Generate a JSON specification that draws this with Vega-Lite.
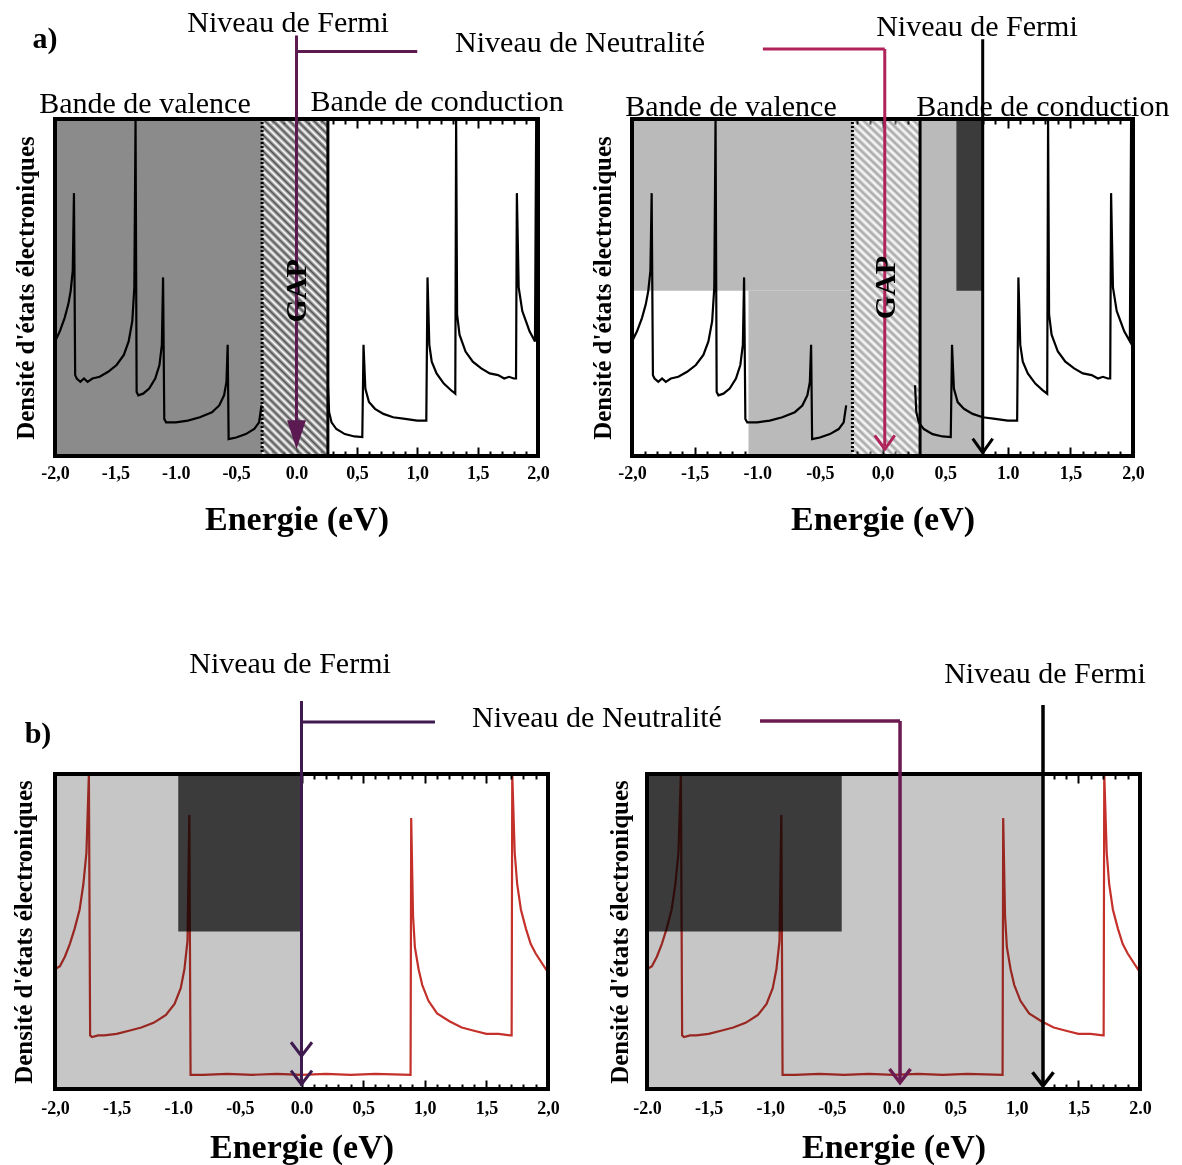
{
  "$schema": "https://vega.github.io/schema/vega-lite/v6.json",
  "background": "white",
  "padding": {"left": 11, "top": 7, "right": 5, "bottom": 5},
  "bounds": "flush",
  "spacing": 655,
  "config": {
    "view": {"stroke": null},
    "font": "Liberation Serif",
    "axis": {"labelFont": "Liberation Serif", "labelFontSize": 18, "labelFontWeight": "bold", "labelColor": "black", "titleFont": "Liberation Serif", "titleFontWeight": "bold", "titleColor": "black", "domain": false, "grid": false, "tickColor": "black", "tickWidth": 2}
  },
  "datasets": {
    "dosA": [
      {"x":-2.0,"y":0.34,"bande":"v"},{"x":-1.96,"y":0.37,"bande":"v"},{"x":-1.92,"y":0.41,"bande":"v"},{"x":-1.89,"y":0.45,"bande":"v"},{"x":-1.87,"y":0.49,"bande":"v"},{"x":-1.853,"y":0.55,"bande":"v"},{"x":-1.843,"y":0.78,"bande":"v"},{"x":-1.833,"y":0.24,"bande":"v"},{"x":-1.82,"y":0.23,"bande":"v"},{"x":-1.79,"y":0.22,"bande":"v"},{"x":-1.76,"y":0.23,"bande":"v"},{"x":-1.73,"y":0.22,"bande":"v"},{"x":-1.69,"y":0.23,"bande":"v"},{"x":-1.63,"y":0.235,"bande":"v"},{"x":-1.56,"y":0.25,"bande":"v"},{"x":-1.49,"y":0.27,"bande":"v"},{"x":-1.43,"y":0.3,"bande":"v"},{"x":-1.39,"y":0.34,"bande":"v"},{"x":-1.36,"y":0.4,"bande":"v"},{"x":-1.343,"y":0.5,"bande":"v"},{"x":-1.333,"y":1.0,"bande":"v"},{"x":-1.324,"y":0.19,"bande":"v"},{"x":-1.31,"y":0.18,"bande":"v"},{"x":-1.27,"y":0.185,"bande":"v"},{"x":-1.22,"y":0.2,"bande":"v"},{"x":-1.17,"y":0.23,"bande":"v"},{"x":-1.135,"y":0.27,"bande":"v"},{"x":-1.115,"y":0.33,"bande":"v"},{"x":-1.105,"y":0.53,"bande":"v"},{"x":-1.095,"y":0.11,"bande":"v"},{"x":-1.08,"y":0.1,"bande":"v"},{"x":-1.0,"y":0.1,"bande":"v"},{"x":-0.9,"y":0.105,"bande":"v"},{"x":-0.8,"y":0.115,"bande":"v"},{"x":-0.7,"y":0.13,"bande":"v"},{"x":-0.64,"y":0.15,"bande":"v"},{"x":-0.6,"y":0.18,"bande":"v"},{"x":-0.58,"y":0.22,"bande":"v"},{"x":-0.57,"y":0.33,"bande":"v"},{"x":-0.562,"y":0.05,"bande":"v"},{"x":-0.5,"y":0.055,"bande":"v"},{"x":-0.42,"y":0.065,"bande":"v"},{"x":-0.35,"y":0.08,"bande":"v"},{"x":-0.31,"y":0.1,"bande":"v"},{"x":-0.29,"y":0.15,"bande":"v"},
      {"x":0.26,"y":0.21,"bande":"c"},{"x":0.27,"y":0.13,"bande":"c"},{"x":0.29,"y":0.1,"bande":"c"},{"x":0.33,"y":0.08,"bande":"c"},{"x":0.4,"y":0.065,"bande":"c"},{"x":0.48,"y":0.058,"bande":"c"},{"x":0.545,"y":0.056,"bande":"c"},{"x":0.555,"y":0.33,"bande":"c"},{"x":0.57,"y":0.2,"bande":"c"},{"x":0.6,"y":0.16,"bande":"c"},{"x":0.65,"y":0.14,"bande":"c"},{"x":0.72,"y":0.125,"bande":"c"},{"x":0.8,"y":0.115,"bande":"c"},{"x":0.9,"y":0.11,"bande":"c"},{"x":1.0,"y":0.105,"bande":"c"},{"x":1.075,"y":0.105,"bande":"c"},{"x":1.085,"y":0.53,"bande":"c"},{"x":1.1,"y":0.33,"bande":"c"},{"x":1.12,"y":0.28,"bande":"c"},{"x":1.16,"y":0.245,"bande":"c"},{"x":1.22,"y":0.215,"bande":"c"},{"x":1.28,"y":0.195,"bande":"c"},{"x":1.315,"y":0.185,"bande":"c"},{"x":1.322,"y":1.0,"bande":"c"},{"x":1.33,"y":0.42,"bande":"c"},{"x":1.35,"y":0.36,"bande":"c"},{"x":1.4,"y":0.31,"bande":"c"},{"x":1.46,"y":0.28,"bande":"c"},{"x":1.53,"y":0.26,"bande":"c"},{"x":1.6,"y":0.245,"bande":"c"},{"x":1.67,"y":0.24,"bande":"c"},{"x":1.72,"y":0.23,"bande":"c"},{"x":1.76,"y":0.235,"bande":"c"},{"x":1.8,"y":0.23,"bande":"c"},{"x":1.818,"y":0.23,"bande":"c"},{"x":1.825,"y":0.78,"bande":"c"},{"x":1.84,"y":0.5,"bande":"c"},{"x":1.87,"y":0.43,"bande":"c"},{"x":1.9,"y":0.4,"bande":"c"},{"x":1.93,"y":0.37,"bande":"c"},{"x":1.96,"y":0.35,"bande":"c"},{"x":1.975,"y":0.34,"bande":"c"},{"x":1.985,"y":1.0,"bande":"c"},{"x":2.0,"y":1.0,"bande":"c"}
    ],
    "dosB": [
      {"x":-2.0,"y":0.38},{"x":-1.96,"y":0.39},{"x":-1.92,"y":0.42},{"x":-1.88,"y":0.46},{"x":-1.84,"y":0.51},{"x":-1.8,"y":0.57},{"x":-1.77,"y":0.65},{"x":-1.745,"y":0.75},{"x":-1.725,"y":1.0},{"x":-1.715,"y":0.17},{"x":-1.7,"y":0.165},{"x":-1.65,"y":0.17},{"x":-1.6,"y":0.17},{"x":-1.5,"y":0.175},{"x":-1.4,"y":0.185},{"x":-1.3,"y":0.195},{"x":-1.2,"y":0.21},{"x":-1.1,"y":0.235},{"x":-1.03,"y":0.27},{"x":-0.98,"y":0.32},{"x":-0.95,"y":0.38},{"x":-0.925,"y":0.47},{"x":-0.91,"y":0.87},{"x":-0.9,"y":0.045},{"x":-0.8,"y":0.045},{"x":-0.6,"y":0.048},{"x":-0.4,"y":0.045},{"x":-0.2,"y":0.048},{"x":0.0,"y":0.045},{"x":0.2,"y":0.048},{"x":0.4,"y":0.045},{"x":0.6,"y":0.048},{"x":0.885,"y":0.045},{"x":0.89,"y":0.86},{"x":0.905,"y":0.55},{"x":0.92,"y":0.45},{"x":0.95,"y":0.38},{"x":0.98,"y":0.33},{"x":1.03,"y":0.28},{"x":1.1,"y":0.24},{"x":1.2,"y":0.215},{"x":1.3,"y":0.195},{"x":1.4,"y":0.185},{"x":1.5,"y":0.175},{"x":1.6,"y":0.175},{"x":1.7,"y":0.17},{"x":1.705,"y":0.17},{"x":1.71,"y":1.0},{"x":1.73,"y":0.75},{"x":1.75,"y":0.65},{"x":1.78,"y":0.57},{"x":1.82,"y":0.51},{"x":1.86,"y":0.46},{"x":1.9,"y":0.43},{"x":1.95,"y":0.4},{"x":2.0,"y":0.37}
    ]
  },
  "vconcat": [
    {
      "bounds": "flush",
      "spacing": 94,
      "hconcat": [
        {
          "width": 483, "height": 337,
          "encoding": {
            "x": {"field": "x", "type": "quantitative", "scale": {"domain": [-2, 2], "nice": false, "zero": false}, "axis": null},
            "y": {"field": "y", "type": "quantitative", "scale": {"domain": [0, 1], "nice": false, "zero": false}, "axis": null}
          },
          "resolve": {"axis": {"x": "independent", "y": "independent"}},
          "layer": [
            {"data": {"values": [{"x": -2, "x2": -0.285, "y": 0, "y2": 1, "tone": "fonce"}]},
             "mark": {"type": "rect"},
             "encoding": {"x2": {"field": "x2"}, "y2": {"field": "y2"}, "fill": {"field": "tone", "type": "nominal", "scale": {"domain": ["fonce", "clair_a", "clair_b", "sombre"], "range": ["#8b8b8b", "#bababa", "#c6c6c6", "#3b3b3b"]}, "legend": null}}},
            {"data": {"values": [{"x": -0.285, "x2": 0.26, "y": 0, "y2": 1}]},
             "mark": {"type": "rect", "fillOpacity": 0.85, "fill": {"gradient": "linear", "x1": 0, "y1": 1, "x2": 0.222, "y2": -0.151, "stops": [
        {"offset":0,"color":"#333333"},{"offset":0.01,"color":"#ffffff"},{"offset":0.02,"color":"#333333"},{"offset":0.03,"color":"#ffffff"},{"offset":0.04,"color":"#333333"},{"offset":0.05,"color":"#ffffff"},{"offset":0.06,"color":"#333333"},{"offset":0.07,"color":"#ffffff"},{"offset":0.08,"color":"#333333"},{"offset":0.09,"color":"#ffffff"},
        {"offset":0.1,"color":"#333333"},{"offset":0.11,"color":"#ffffff"},{"offset":0.12,"color":"#333333"},{"offset":0.13,"color":"#ffffff"},{"offset":0.14,"color":"#333333"},{"offset":0.15,"color":"#ffffff"},{"offset":0.16,"color":"#333333"},{"offset":0.17,"color":"#ffffff"},{"offset":0.18,"color":"#333333"},{"offset":0.19,"color":"#ffffff"},
        {"offset":0.2,"color":"#333333"},{"offset":0.21,"color":"#ffffff"},{"offset":0.22,"color":"#333333"},{"offset":0.23,"color":"#ffffff"},{"offset":0.24,"color":"#333333"},{"offset":0.25,"color":"#ffffff"},{"offset":0.26,"color":"#333333"},{"offset":0.27,"color":"#ffffff"},{"offset":0.28,"color":"#333333"},{"offset":0.29,"color":"#ffffff"},
        {"offset":0.3,"color":"#333333"},{"offset":0.31,"color":"#ffffff"},{"offset":0.32,"color":"#333333"},{"offset":0.33,"color":"#ffffff"},{"offset":0.34,"color":"#333333"},{"offset":0.35,"color":"#ffffff"},{"offset":0.36,"color":"#333333"},{"offset":0.37,"color":"#ffffff"},{"offset":0.38,"color":"#333333"},{"offset":0.39,"color":"#ffffff"},
        {"offset":0.4,"color":"#333333"},{"offset":0.41,"color":"#ffffff"},{"offset":0.42,"color":"#333333"},{"offset":0.43,"color":"#ffffff"},{"offset":0.44,"color":"#333333"},{"offset":0.45,"color":"#ffffff"},{"offset":0.46,"color":"#333333"},{"offset":0.47,"color":"#ffffff"},{"offset":0.48,"color":"#333333"},{"offset":0.49,"color":"#ffffff"},
        {"offset":0.5,"color":"#333333"},{"offset":0.51,"color":"#ffffff"},{"offset":0.52,"color":"#333333"},{"offset":0.53,"color":"#ffffff"},{"offset":0.54,"color":"#333333"},{"offset":0.55,"color":"#ffffff"},{"offset":0.56,"color":"#333333"},{"offset":0.57,"color":"#ffffff"},{"offset":0.58,"color":"#333333"},{"offset":0.59,"color":"#ffffff"},
        {"offset":0.6,"color":"#333333"},{"offset":0.61,"color":"#ffffff"},{"offset":0.62,"color":"#333333"},{"offset":0.63,"color":"#ffffff"},{"offset":0.64,"color":"#333333"},{"offset":0.65,"color":"#ffffff"},{"offset":0.66,"color":"#333333"},{"offset":0.67,"color":"#ffffff"},{"offset":0.68,"color":"#333333"},{"offset":0.69,"color":"#ffffff"},
        {"offset":0.7,"color":"#333333"},{"offset":0.71,"color":"#ffffff"},{"offset":0.72,"color":"#333333"},{"offset":0.73,"color":"#ffffff"},{"offset":0.74,"color":"#333333"},{"offset":0.75,"color":"#ffffff"},{"offset":0.76,"color":"#333333"},{"offset":0.77,"color":"#ffffff"},{"offset":0.78,"color":"#333333"},{"offset":0.79,"color":"#ffffff"},
        {"offset":0.8,"color":"#333333"},{"offset":0.81,"color":"#ffffff"},{"offset":0.82,"color":"#333333"},{"offset":0.83,"color":"#ffffff"},{"offset":0.84,"color":"#333333"},{"offset":0.85,"color":"#ffffff"},{"offset":0.86,"color":"#333333"},{"offset":0.87,"color":"#ffffff"},{"offset":0.88,"color":"#333333"},{"offset":0.89,"color":"#ffffff"},
        {"offset":0.9,"color":"#333333"},{"offset":0.91,"color":"#ffffff"},{"offset":0.92,"color":"#333333"},{"offset":0.93,"color":"#ffffff"},{"offset":0.94,"color":"#333333"},{"offset":0.95,"color":"#ffffff"},{"offset":0.96,"color":"#333333"},{"offset":0.97,"color":"#ffffff"},{"offset":0.98,"color":"#333333"},{"offset":0.99,"color":"#ffffff"},
        {"offset":1,"color":"#333333"}]}},
             "encoding": {"x2": {"field": "x2"}, "y2": {"field": "y2"}}},
            {"data": {"values": [{"x": -0.285, "y": 0, "y2": 1, "trait": "pointillé"}, {"x": 0.26, "y": 0, "y2": 1, "trait": "plein"}]},
             "mark": {"type": "rule", "color": "black", "strokeWidth": 3},
             "encoding": {"y2": {"field": "y2"}, "strokeDash": {"field": "trait", "type": "nominal", "scale": {"domain": ["pointillé", "plein"], "range": [[2, 2], [1, 0]]}, "legend": null}}},
            {"data": {"name": "dosA"},
             "mark": {"type": "line", "color": "black", "strokeWidth": 2.2},
             "encoding": {
               "detail": {"field": "bande", "type": "nominal"},
               "x": {"field": "x", "type": "quantitative", "scale": {"domain": [-2, 2], "nice": false, "zero": false},
                     "axis": {"orient": "bottom", "values": [-2,-1.9,-1.8,-1.7,-1.6,-1.5,-1.4,-1.3,-1.2,-1.1,-1,-0.9,-0.8,-0.7,-0.6,-0.5,-0.4,-0.3,-0.2,-0.1,0,0.1,0.2,0.3,0.4,0.5,0.6,0.7,0.8,0.9,1,1.1,1.2,1.3,1.4,1.5,1.6,1.7,1.8,1.9,2],
                              "tickSize": {"condition": {"test": "abs(datum.value*2-round(datum.value*2))<0.01", "value": -9}, "value": -5},
                              "labelExpr": "abs(datum.value*2-round(datum.value*2))>0.01 ? '' : (datum.value<0?'-':'') + (indexof([-1,0],datum.value)>=0 ? format(abs(datum.value),'.1f') : replace(format(abs(datum.value),'.1f'),'.',','))",
                              "labelPadding": 17, "labelFlush": false, "labelOverlap": false,
                              "title": "Energie (eV)", "titleFontSize": 34, "titlePadding": 16}},
               "y": {"field": "y", "type": "quantitative", "scale": {"domain": [0, 1], "nice": false, "zero": false},
                     "axis": {"orient": "left", "title": "Densité d'états électroniques", "titleFontSize": 25, "titlePadding": 17, "ticks": false, "labels": false}}
             }},
            {"data": {"values": [{"x": -2, "x2": 2, "y": 0, "y2": 1}]},
             "mark": {"type": "rect", "filled": false, "stroke": "black", "strokeWidth": 4},
             "encoding": {
               "x": {"field": "x", "type": "quantitative", "scale": {"domain": [-2, 2], "nice": false, "zero": false},
                     "axis": {"orient": "top", "values": [-2,-1.9,-1.8,-1.7,-1.6,-1.5,-1.4,-1.3,-1.2,-1.1,-1,-0.9,-0.8,-0.7,-0.6,-0.5,-0.4,-0.3,-0.2,-0.1,0,0.1,0.2,0.3,0.4,0.5,0.6,0.7,0.8,0.9,1,1.1,1.2,1.3,1.4,1.5,1.6,1.7,1.8,1.9,2],
                              "tickSize": {"condition": {"test": "abs(datum.value*2-round(datum.value*2))<0.01", "value": -9}, "value": -5},
                              "labels": false, "title": null}},
               "x2": {"field": "x2"}, "y2": {"field": "y2"}}},
            {"data": {"values": [{"x": 0, "y": 1.248, "x2": 0, "y2": 0.06, "fleche": "fermi_violet"}, {"x": 0, "y": 1.2, "x2": 1.0, "y2": 1.2, "fleche": "fermi_violet"}]},
             "mark": {"type": "rule", "strokeWidth": 3},
             "encoding": {"x2": {"field": "x2"}, "y2": {"field": "y2"}, "color": {"field": "fleche", "type": "nominal", "scale": {"domain": ["fermi_violet", "neutre_magenta", "fermi_noir", "fermi_violet_b", "neutre_violet"], "range": ["#5c1a52", "#b0235a", "#000000", "#3e1a4e", "#6b1b52"]}, "legend": null}}},
            {"data": {"values": [{"x": 0, "y": 0.02, "fleche": "fermi_violet"}]},
             "mark": {"type": "point", "shape": "M-0.65,-2L0.65,-2L0,0Z", "size": 841, "filled": true, "opacity": 1},
             "encoding": {"color": {"field": "fleche", "type": "nominal", "scale": {"domain": ["fermi_violet", "neutre_magenta", "fermi_noir", "fermi_violet_b", "neutre_violet"], "range": ["#5c1a52", "#b0235a", "#000000", "#3e1a4e", "#6b1b52"]}, "legend": null}}},
            {"data": {"values": [{"x": -0.07, "y": 1.285, "texte": "Niveau de Fermi"}, {"x": 2.348, "y": 1.2255, "texte": "Niveau de Neutralité"}, {"x": -1.255, "y": 1.045, "texte": "Bande de valence"}, {"x": 1.164, "y": 1.05, "texte": "Bande de conduction"}]},
             "mark": {"type": "text", "font": "Liberation Serif", "fontSize": 30, "color": "black", "baseline": "middle", "align": "center"},
             "encoding": {"text": {"field": "texte"}}},
            {"data": {"values": [{"x": -2.083, "y": 1.237, "texte": "a)"}]},
             "mark": {"type": "text", "font": "Liberation Serif", "fontSize": 30, "fontWeight": "bold", "color": "black", "baseline": "middle", "align": "center"},
             "encoding": {"text": {"field": "texte"}}},
            {"data": {"values": [{"x": 0, "y": 0.49, "texte": "GAP"}]},
             "mark": {"type": "text", "font": "Liberation Serif", "fontSize": 30, "fontWeight": "bold", "color": "black", "angle": 270, "baseline": "middle", "align": "center"},
             "encoding": {"text": {"field": "texte"}}}
          ]
        },
        {
          "width": 501, "height": 337,
          "encoding": {
            "x": {"field": "x", "type": "quantitative", "scale": {"domain": [-2, 2], "nice": false, "zero": false}, "axis": null},
            "y": {"field": "y", "type": "quantitative", "scale": {"domain": [0, 1], "nice": false, "zero": false}, "axis": null}
          },
          "resolve": {"axis": {"x": "independent", "y": "independent"}},
          "layer": [
            {"data": {"values": [{"x": -2, "x2": -0.24, "y": 0.49, "y2": 1, "tone": "clair_a"}, {"x": -1.07, "x2": -0.24, "y": 0, "y2": 0.49, "tone": "clair_a"}, {"x": 0.3, "x2": 0.8, "y": 0, "y2": 1, "tone": "clair_a"}, {"x": 0.59, "x2": 0.8, "y": 0.49, "y2": 1, "tone": "sombre"}]},
             "mark": {"type": "rect"},
             "encoding": {"x2": {"field": "x2"}, "y2": {"field": "y2"}, "fill": {"field": "tone", "type": "nominal", "scale": {"domain": ["fonce", "clair_a", "clair_b", "sombre"], "range": ["#8b8b8b", "#bababa", "#c6c6c6", "#3b3b3b"]}, "legend": null}}},
            {"data": {"values": [{"x": -0.24, "x2": 0.3, "y": 0, "y2": 1}]},
             "mark": {"type": "rect", "fillOpacity": 0.4, "fill": {"gradient": "linear", "x1": 0, "y1": 1, "x2": 0.222, "y2": -0.151, "stops": [
        {"offset":0,"color":"#1a1a1a"},{"offset":0.01,"color":"#ffffff"},{"offset":0.02,"color":"#1a1a1a"},{"offset":0.03,"color":"#ffffff"},{"offset":0.04,"color":"#1a1a1a"},{"offset":0.05,"color":"#ffffff"},{"offset":0.06,"color":"#1a1a1a"},{"offset":0.07,"color":"#ffffff"},{"offset":0.08,"color":"#1a1a1a"},{"offset":0.09,"color":"#ffffff"},
        {"offset":0.1,"color":"#1a1a1a"},{"offset":0.11,"color":"#ffffff"},{"offset":0.12,"color":"#1a1a1a"},{"offset":0.13,"color":"#ffffff"},{"offset":0.14,"color":"#1a1a1a"},{"offset":0.15,"color":"#ffffff"},{"offset":0.16,"color":"#1a1a1a"},{"offset":0.17,"color":"#ffffff"},{"offset":0.18,"color":"#1a1a1a"},{"offset":0.19,"color":"#ffffff"},
        {"offset":0.2,"color":"#1a1a1a"},{"offset":0.21,"color":"#ffffff"},{"offset":0.22,"color":"#1a1a1a"},{"offset":0.23,"color":"#ffffff"},{"offset":0.24,"color":"#1a1a1a"},{"offset":0.25,"color":"#ffffff"},{"offset":0.26,"color":"#1a1a1a"},{"offset":0.27,"color":"#ffffff"},{"offset":0.28,"color":"#1a1a1a"},{"offset":0.29,"color":"#ffffff"},
        {"offset":0.3,"color":"#1a1a1a"},{"offset":0.31,"color":"#ffffff"},{"offset":0.32,"color":"#1a1a1a"},{"offset":0.33,"color":"#ffffff"},{"offset":0.34,"color":"#1a1a1a"},{"offset":0.35,"color":"#ffffff"},{"offset":0.36,"color":"#1a1a1a"},{"offset":0.37,"color":"#ffffff"},{"offset":0.38,"color":"#1a1a1a"},{"offset":0.39,"color":"#ffffff"},
        {"offset":0.4,"color":"#1a1a1a"},{"offset":0.41,"color":"#ffffff"},{"offset":0.42,"color":"#1a1a1a"},{"offset":0.43,"color":"#ffffff"},{"offset":0.44,"color":"#1a1a1a"},{"offset":0.45,"color":"#ffffff"},{"offset":0.46,"color":"#1a1a1a"},{"offset":0.47,"color":"#ffffff"},{"offset":0.48,"color":"#1a1a1a"},{"offset":0.49,"color":"#ffffff"},
        {"offset":0.5,"color":"#1a1a1a"},{"offset":0.51,"color":"#ffffff"},{"offset":0.52,"color":"#1a1a1a"},{"offset":0.53,"color":"#ffffff"},{"offset":0.54,"color":"#1a1a1a"},{"offset":0.55,"color":"#ffffff"},{"offset":0.56,"color":"#1a1a1a"},{"offset":0.57,"color":"#ffffff"},{"offset":0.58,"color":"#1a1a1a"},{"offset":0.59,"color":"#ffffff"},
        {"offset":0.6,"color":"#1a1a1a"},{"offset":0.61,"color":"#ffffff"},{"offset":0.62,"color":"#1a1a1a"},{"offset":0.63,"color":"#ffffff"},{"offset":0.64,"color":"#1a1a1a"},{"offset":0.65,"color":"#ffffff"},{"offset":0.66,"color":"#1a1a1a"},{"offset":0.67,"color":"#ffffff"},{"offset":0.68,"color":"#1a1a1a"},{"offset":0.69,"color":"#ffffff"},
        {"offset":0.7,"color":"#1a1a1a"},{"offset":0.71,"color":"#ffffff"},{"offset":0.72,"color":"#1a1a1a"},{"offset":0.73,"color":"#ffffff"},{"offset":0.74,"color":"#1a1a1a"},{"offset":0.75,"color":"#ffffff"},{"offset":0.76,"color":"#1a1a1a"},{"offset":0.77,"color":"#ffffff"},{"offset":0.78,"color":"#1a1a1a"},{"offset":0.79,"color":"#ffffff"},
        {"offset":0.8,"color":"#1a1a1a"},{"offset":0.81,"color":"#ffffff"},{"offset":0.82,"color":"#1a1a1a"},{"offset":0.83,"color":"#ffffff"},{"offset":0.84,"color":"#1a1a1a"},{"offset":0.85,"color":"#ffffff"},{"offset":0.86,"color":"#1a1a1a"},{"offset":0.87,"color":"#ffffff"},{"offset":0.88,"color":"#1a1a1a"},{"offset":0.89,"color":"#ffffff"},
        {"offset":0.9,"color":"#1a1a1a"},{"offset":0.91,"color":"#ffffff"},{"offset":0.92,"color":"#1a1a1a"},{"offset":0.93,"color":"#ffffff"},{"offset":0.94,"color":"#1a1a1a"},{"offset":0.95,"color":"#ffffff"},{"offset":0.96,"color":"#1a1a1a"},{"offset":0.97,"color":"#ffffff"},{"offset":0.98,"color":"#1a1a1a"},{"offset":0.99,"color":"#ffffff"},
        {"offset":1,"color":"#1a1a1a"}]}},
             "encoding": {"x2": {"field": "x2"}, "y2": {"field": "y2"}}},
            {"data": {"values": [{"x": -0.24, "y": 0, "y2": 1, "trait": "pointillé"}, {"x": 0.3, "y": 0, "y2": 1, "trait": "plein"}]},
             "mark": {"type": "rule", "color": "black", "strokeWidth": 3},
             "encoding": {"y2": {"field": "y2"}, "strokeDash": {"field": "trait", "type": "nominal", "scale": {"domain": ["pointillé", "plein"], "range": [[2, 2], [1, 0]]}, "legend": null}}},
            {"data": {"name": "dosA"},
             "mark": {"type": "line", "color": "black", "strokeWidth": 2.2},
             "encoding": {
               "detail": {"field": "bande", "type": "nominal"},
               "x": {"field": "x", "type": "quantitative", "scale": {"domain": [-2, 2], "nice": false, "zero": false},
                     "axis": {"orient": "bottom", "values": [-2,-1.9,-1.8,-1.7,-1.6,-1.5,-1.4,-1.3,-1.2,-1.1,-1,-0.9,-0.8,-0.7,-0.6,-0.5,-0.4,-0.3,-0.2,-0.1,0,0.1,0.2,0.3,0.4,0.5,0.6,0.7,0.8,0.9,1,1.1,1.2,1.3,1.4,1.5,1.6,1.7,1.8,1.9,2],
                              "tickSize": {"condition": {"test": "abs(datum.value*2-round(datum.value*2))<0.01", "value": -9}, "value": -5},
                              "labelExpr": "abs(datum.value*2-round(datum.value*2))>0.01 ? '' : (datum.value<0?'-':'') + (indexof([-1,1],datum.value)>=0 ? format(abs(datum.value),'.1f') : replace(format(abs(datum.value),'.1f'),'.',','))",
                              "labelPadding": 17, "labelFlush": false, "labelOverlap": false,
                              "title": "Energie (eV)", "titleFontSize": 34, "titlePadding": 16}},
               "y": {"field": "y", "type": "quantitative", "scale": {"domain": [0, 1], "nice": false, "zero": false},
                     "axis": {"orient": "left", "title": "Densité d'états électroniques", "titleFontSize": 25, "titlePadding": 17, "ticks": false, "labels": false}}
             }},
            {"data": {"values": [{"x": -2, "x2": 2, "y": 0, "y2": 1}]},
             "mark": {"type": "rect", "filled": false, "stroke": "black", "strokeWidth": 4},
             "encoding": {
               "x": {"field": "x", "type": "quantitative", "scale": {"domain": [-2, 2], "nice": false, "zero": false},
                     "axis": {"orient": "top", "values": [-2,-1.9,-1.8,-1.7,-1.6,-1.5,-1.4,-1.3,-1.2,-1.1,-1,-0.9,-0.8,-0.7,-0.6,-0.5,-0.4,-0.3,-0.2,-0.1,0,0.1,0.2,0.3,0.4,0.5,0.6,0.7,0.8,0.9,1,1.1,1.2,1.3,1.4,1.5,1.6,1.7,1.8,1.9,2],
                              "tickSize": {"condition": {"test": "abs(datum.value*2-round(datum.value*2))<0.01", "value": -9}, "value": -5},
                              "labels": false, "title": null}},
               "x2": {"field": "x2"}, "y2": {"field": "y2"}}},
            {"data": {"values": [{"x": 0.018, "y": 1.208, "x2": 0.018, "y2": 0.03, "fleche": "neutre_magenta"}, {"x": -0.955, "y": 1.208, "x2": 0.018, "y2": 1.208, "fleche": "neutre_magenta"}, {"x": 0.8, "y": 1.237, "x2": 0.8, "y2": 0.01, "fleche": "fermi_noir"}]},
             "mark": {"type": "rule", "strokeWidth": 3},
             "encoding": {"x2": {"field": "x2"}, "y2": {"field": "y2"}, "color": {"field": "fleche", "type": "nominal", "scale": {"domain": ["fermi_violet", "neutre_magenta", "fermi_noir", "fermi_violet_b", "neutre_violet"], "range": ["#5c1a52", "#b0235a", "#000000", "#3e1a4e", "#6b1b52"]}, "legend": null}}},
            {"data": {"values": [{"x": 0.018, "y": 0.02, "fleche": "neutre_magenta"}, {"x": 0.8, "y": 0.01, "fleche": "fermi_noir"}]},
             "mark": {"type": "point", "shape": "M-1,-1.4L0,0L1,-1.4", "size": 400, "filled": false, "strokeWidth": 3, "opacity": 1},
             "encoding": {"color": {"field": "fleche", "type": "nominal", "scale": {"domain": ["fermi_violet", "neutre_magenta", "fermi_noir", "fermi_violet_b", "neutre_violet"], "range": ["#5c1a52", "#b0235a", "#000000", "#3e1a4e", "#6b1b52"]}, "legend": null}}},
            {"data": {"values": [{"x": 0.754, "y": 1.273, "texte": "Niveau de Fermi"}, {"x": -1.21, "y": 1.036, "texte": "Bande de valence"}, {"x": 1.28, "y": 1.036, "texte": "Bande de conduction"}]},
             "mark": {"type": "text", "font": "Liberation Serif", "fontSize": 30, "color": "black", "baseline": "middle", "align": "center"},
             "encoding": {"text": {"field": "texte"}}},
            {"data": {"values": [{"x": 0.03, "y": 0.5, "texte": "GAP"}]},
             "mark": {"type": "text", "font": "Liberation Serif", "fontSize": 30, "fontWeight": "bold", "color": "black", "angle": 270, "baseline": "middle", "align": "center"},
             "encoding": {"text": {"field": "texte"}}}
          ]
        }
      ]
    },
    {
      "bounds": "flush",
      "spacing": 99,
      "hconcat": [
        {
          "width": 493, "height": 315,
          "encoding": {
            "x": {"field": "x", "type": "quantitative", "scale": {"domain": [-2, 2], "nice": false, "zero": false}, "axis": null},
            "y": {"field": "y", "type": "quantitative", "scale": {"domain": [0, 1], "nice": false, "zero": false}, "axis": null}
          },
          "resolve": {"axis": {"x": "independent", "y": "independent"}},
          "layer": [
            {"data": {"values": [{"x": -2, "x2": 0, "y": 0, "y2": 1, "tone": "clair_b"}, {"x": -1.0, "x2": 0, "y": 0.5, "y2": 1, "tone": "sombre"}]},
             "mark": {"type": "rect"},
             "encoding": {"x2": {"field": "x2"}, "y2": {"field": "y2"}, "fill": {"field": "tone", "type": "nominal", "scale": {"domain": ["fonce", "clair_a", "clair_b", "sombre"], "range": ["#8b8b8b", "#bababa", "#c6c6c6", "#3b3b3b"]}, "legend": null}}},
            {"data": {"name": "dosB"},
             "mark": {"type": "line", "color": "#c4302a", "strokeWidth": 2.2, "blend": "multiply"},
             "encoding": {
               "x": {"field": "x", "type": "quantitative", "scale": {"domain": [-2, 2], "nice": false, "zero": false},
                     "axis": {"orient": "bottom", "values": [-2,-1.9,-1.8,-1.7,-1.6,-1.5,-1.4,-1.3,-1.2,-1.1,-1,-0.9,-0.8,-0.7,-0.6,-0.5,-0.4,-0.3,-0.2,-0.1,0,0.1,0.2,0.3,0.4,0.5,0.6,0.7,0.8,0.9,1,1.1,1.2,1.3,1.4,1.5,1.6,1.7,1.8,1.9,2],
                              "tickSize": {"condition": {"test": "abs(datum.value*2-round(datum.value*2))<0.01", "value": -9}, "value": -5},
                              "labelExpr": "abs(datum.value*2-round(datum.value*2))>0.01 ? '' : (datum.value<0?'-':'') + (indexof([-1,0],datum.value)>=0 ? format(abs(datum.value),'.1f') : replace(format(abs(datum.value),'.1f'),'.',','))",
                              "labelPadding": 19, "labelFlush": false, "labelOverlap": false,
                              "title": "Energie (eV)", "titleFontSize": 34, "titlePadding": 9}},
               "y": {"field": "y", "type": "quantitative", "scale": {"domain": [0, 1], "nice": false, "zero": false},
                     "axis": {"orient": "left", "title": "Densité d'états électroniques", "titleFontSize": 25, "titlePadding": 19, "ticks": false, "labels": false}}
             }},
            {"data": {"values": [{"x": -2, "x2": 2, "y": 0, "y2": 1}]},
             "mark": {"type": "rect", "filled": false, "stroke": "black", "strokeWidth": 4},
             "encoding": {
               "x": {"field": "x", "type": "quantitative", "scale": {"domain": [-2, 2], "nice": false, "zero": false},
                     "axis": {"orient": "top", "values": [-2,-1.9,-1.8,-1.7,-1.6,-1.5,-1.4,-1.3,-1.2,-1.1,-1,-0.9,-0.8,-0.7,-0.6,-0.5,-0.4,-0.3,-0.2,-0.1,0,0.1,0.2,0.3,0.4,0.5,0.6,0.7,0.8,0.9,1,1.1,1.2,1.3,1.4,1.5,1.6,1.7,1.8,1.9,2],
                              "tickSize": {"condition": {"test": "abs(datum.value*2-round(datum.value*2))<0.01", "value": -9}, "value": -5},
                              "labels": false, "title": null}},
               "x2": {"field": "x2"}, "y2": {"field": "y2"}}},
            {"data": {"values": [{"x": 0, "y": 1.232, "x2": 0, "y2": 0.01, "fleche": "fermi_violet_b"}, {"x": 0, "y": 1.165, "x2": 1.083, "y2": 1.165, "fleche": "fermi_violet_b"}]},
             "mark": {"type": "rule", "strokeWidth": 3},
             "encoding": {"x2": {"field": "x2"}, "y2": {"field": "y2"}, "color": {"field": "fleche", "type": "nominal", "scale": {"domain": ["fermi_violet", "neutre_magenta", "fermi_noir", "fermi_violet_b", "neutre_violet"], "range": ["#5c1a52", "#b0235a", "#000000", "#3e1a4e", "#6b1b52"]}, "legend": null}}},
            {"data": {"values": [{"x": 0, "y": 0.105, "fleche": "fermi_violet_b"}, {"x": 0, "y": 0.015, "fleche": "fermi_violet_b"}]},
             "mark": {"type": "point", "shape": "M-1,-1.3L0,0L1,-1.3", "size": 441, "filled": false, "strokeWidth": 3, "opacity": 1},
             "encoding": {"color": {"field": "fleche", "type": "nominal", "scale": {"domain": ["fermi_violet", "neutre_magenta", "fermi_noir", "fermi_violet_b", "neutre_violet"], "range": ["#5c1a52", "#b0235a", "#000000", "#3e1a4e", "#6b1b52"]}, "legend": null}}},
            {"data": {"values": [{"x": -0.093, "y": 1.349, "texte": "Niveau de Fermi"}, {"x": 2.397, "y": 1.178, "texte": "Niveau de Neutralité"}]},
             "mark": {"type": "text", "font": "Liberation Serif", "fontSize": 30, "color": "black", "baseline": "middle", "align": "center"},
             "encoding": {"text": {"field": "texte"}}},
            {"data": {"values": [{"x": -2.138, "y": 1.127, "texte": "b)"}]},
             "mark": {"type": "text", "font": "Liberation Serif", "fontSize": 30, "fontWeight": "bold", "color": "black", "baseline": "middle", "align": "center"},
             "encoding": {"text": {"field": "texte"}}}
          ]
        },
        {
          "width": 493, "height": 315,
          "encoding": {
            "x": {"field": "x", "type": "quantitative", "scale": {"domain": [-2, 2], "nice": false, "zero": false}, "axis": null},
            "y": {"field": "y", "type": "quantitative", "scale": {"domain": [0, 1], "nice": false, "zero": false}, "axis": null}
          },
          "resolve": {"axis": {"x": "independent", "y": "independent"}},
          "layer": [
            {"data": {"values": [{"x": -2, "x2": 1.213, "y": 0, "y2": 1, "tone": "clair_b"}, {"x": -2, "x2": -0.42, "y": 0.5, "y2": 1, "tone": "sombre"}]},
             "mark": {"type": "rect"},
             "encoding": {"x2": {"field": "x2"}, "y2": {"field": "y2"}, "fill": {"field": "tone", "type": "nominal", "scale": {"domain": ["fonce", "clair_a", "clair_b", "sombre"], "range": ["#8b8b8b", "#bababa", "#c6c6c6", "#3b3b3b"]}, "legend": null}}},
            {"data": {"name": "dosB"},
             "mark": {"type": "line", "color": "#c4302a", "strokeWidth": 2.2, "blend": "multiply"},
             "encoding": {
               "x": {"field": "x", "type": "quantitative", "scale": {"domain": [-2, 2], "nice": false, "zero": false},
                     "axis": {"orient": "bottom", "values": [-2,-1.9,-1.8,-1.7,-1.6,-1.5,-1.4,-1.3,-1.2,-1.1,-1,-0.9,-0.8,-0.7,-0.6,-0.5,-0.4,-0.3,-0.2,-0.1,0,0.1,0.2,0.3,0.4,0.5,0.6,0.7,0.8,0.9,1,1.1,1.2,1.3,1.4,1.5,1.6,1.7,1.8,1.9,2],
                              "tickSize": {"condition": {"test": "abs(datum.value*2-round(datum.value*2))<0.01", "value": -9}, "value": -5},
                              "labelExpr": "abs(datum.value*2-round(datum.value*2))>0.01 ? '' : (datum.value<0?'-':'') + (indexof([-2,0,2],datum.value)>=0 ? format(abs(datum.value),'.1f') : replace(format(abs(datum.value),'.1f'),'.',','))",
                              "labelPadding": 19, "labelFlush": false, "labelOverlap": false,
                              "title": "Energie (eV)", "titleFontSize": 34, "titlePadding": 9}},
               "y": {"field": "y", "type": "quantitative", "scale": {"domain": [0, 1], "nice": false, "zero": false},
                     "axis": {"orient": "left", "title": "Densité d'états électroniques", "titleFontSize": 25, "titlePadding": 15, "ticks": false, "labels": false}}
             }},
            {"data": {"values": [{"x": -2, "x2": 2, "y": 0, "y2": 1}]},
             "mark": {"type": "rect", "filled": false, "stroke": "black", "strokeWidth": 4},
             "encoding": {
               "x": {"field": "x", "type": "quantitative", "scale": {"domain": [-2, 2], "nice": false, "zero": false},
                     "axis": {"orient": "top", "values": [-2,-1.9,-1.8,-1.7,-1.6,-1.5,-1.4,-1.3,-1.2,-1.1,-1,-0.9,-0.8,-0.7,-0.6,-0.5,-0.4,-0.3,-0.2,-0.1,0,0.1,0.2,0.3,0.4,0.5,0.6,0.7,0.8,0.9,1,1.1,1.2,1.3,1.4,1.5,1.6,1.7,1.8,1.9,2],
                              "tickSize": {"condition": {"test": "abs(datum.value*2-round(datum.value*2))<0.01", "value": -9}, "value": -5},
                              "labels": false, "title": null}},
               "x2": {"field": "x2"}, "y2": {"field": "y2"}}},
            {"data": {"values": [{"x": 0.053, "y": 1.168, "x2": 0.053, "y2": 0.02, "fleche": "neutre_violet"}, {"x": -1.083, "y": 1.168, "x2": 0.053, "y2": 1.168, "fleche": "neutre_violet"}, {"x": 1.213, "y": 1.219, "x2": 1.213, "y2": 0.01, "fleche": "fermi_noir"}]},
             "mark": {"type": "rule", "strokeWidth": 3.5},
             "encoding": {"x2": {"field": "x2"}, "y2": {"field": "y2"}, "color": {"field": "fleche", "type": "nominal", "scale": {"domain": ["fermi_violet", "neutre_magenta", "fermi_noir", "fermi_violet_b", "neutre_violet"], "range": ["#5c1a52", "#b0235a", "#000000", "#3e1a4e", "#6b1b52"]}, "legend": null}}},
            {"data": {"values": [{"x": 0.053, "y": 0.02, "fleche": "neutre_violet"}, {"x": 1.213, "y": 0.01, "fleche": "fermi_noir"}]},
             "mark": {"type": "point", "shape": "M-1,-1.3L0,0L1,-1.3", "size": 441, "filled": false, "strokeWidth": 3.5, "opacity": 1},
             "encoding": {"color": {"field": "fleche", "type": "nominal", "scale": {"domain": ["fermi_violet", "neutre_magenta", "fermi_noir", "fermi_violet_b", "neutre_violet"], "range": ["#5c1a52", "#b0235a", "#000000", "#3e1a4e", "#6b1b52"]}, "legend": null}}},
            {"data": {"values": [{"x": 1.229, "y": 1.317, "texte": "Niveau de Fermi"}]},
             "mark": {"type": "text", "font": "Liberation Serif", "fontSize": 30, "color": "black", "baseline": "middle", "align": "center"},
             "encoding": {"text": {"field": "texte"}}}
          ]
        }
      ]
    }
  ]
}
